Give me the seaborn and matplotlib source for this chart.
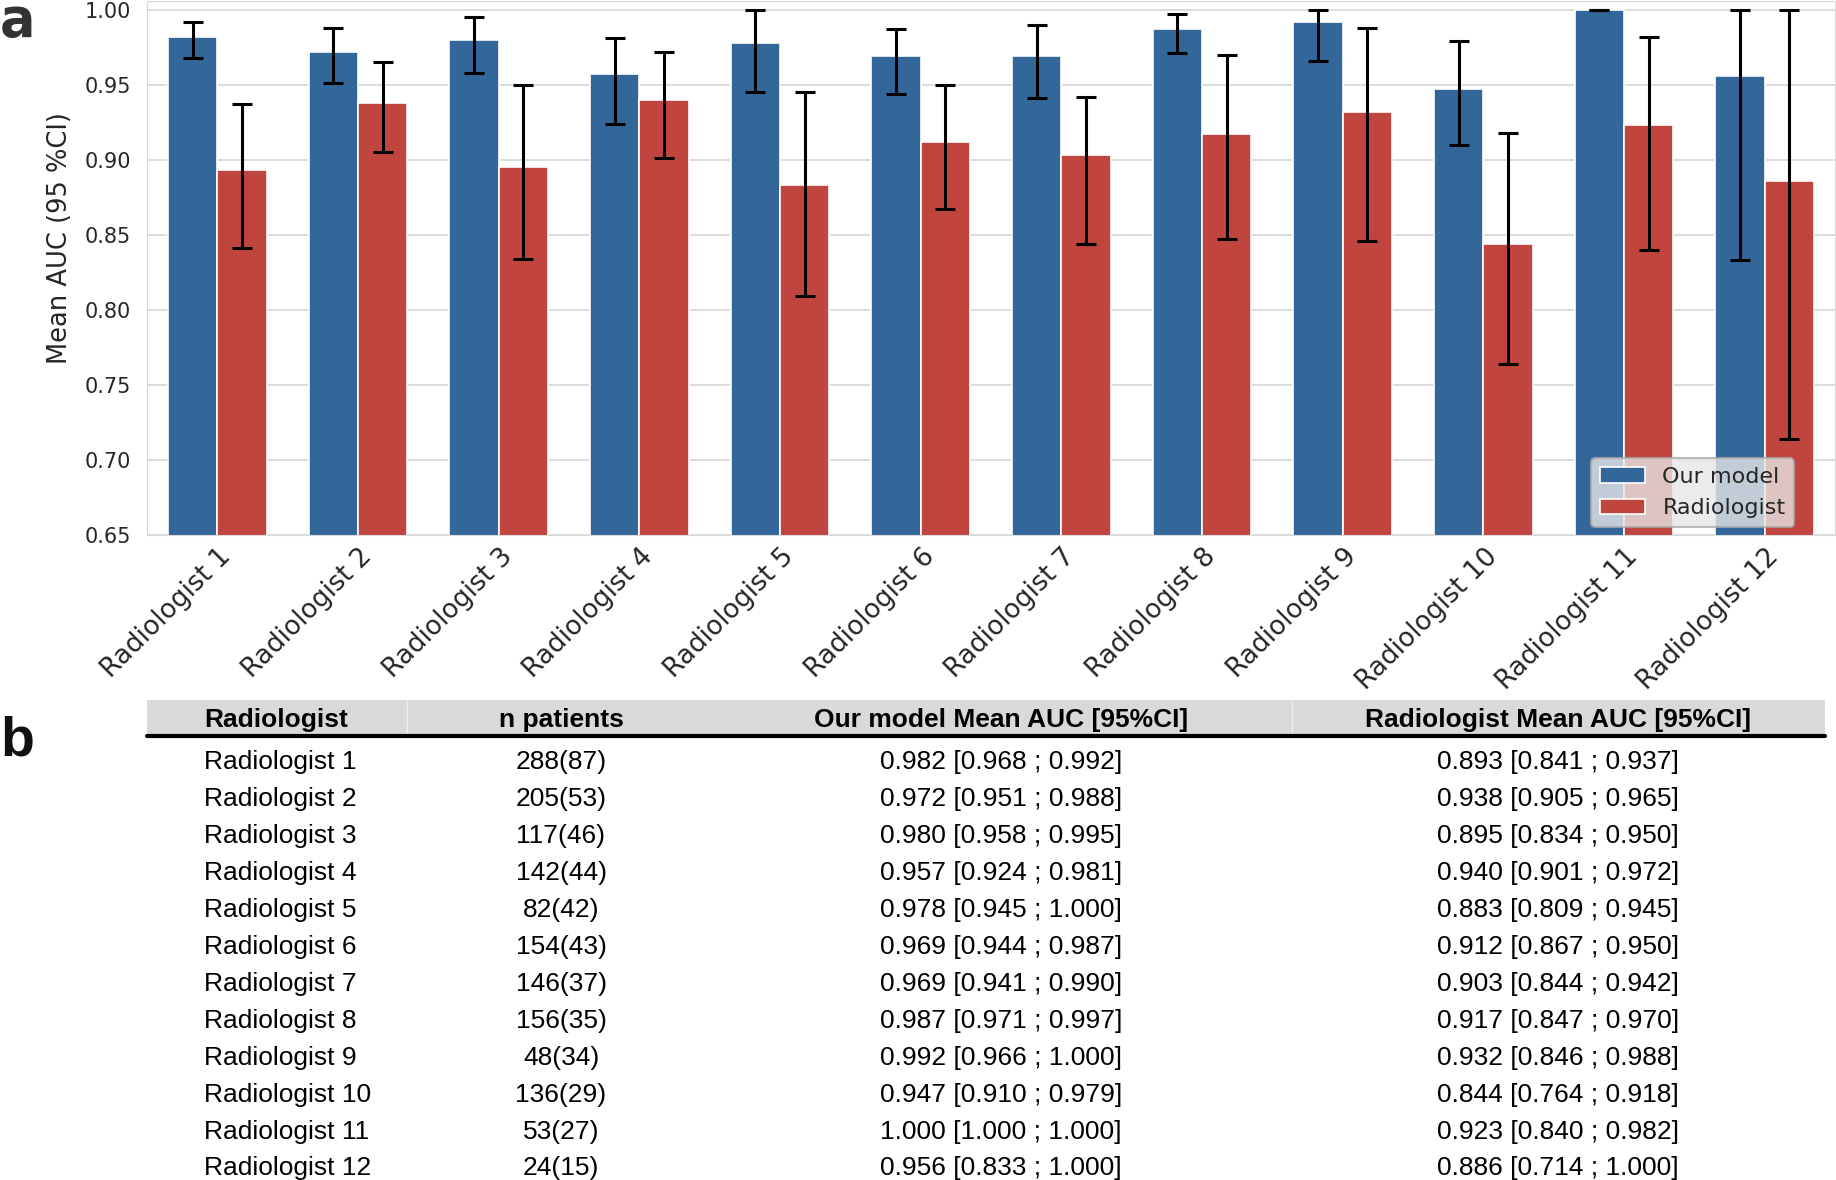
import numpy as np
import pandas as pd
import seaborn as sns
import matplotlib.pyplot as plt
import matplotlib.transforms as mtransforms
from matplotlib.patches import Rectangle

radiologists = ["Radiologist %d" % i for i in range(1, 13)]
n_total = [288, 205, 117, 142, 82, 154, 146, 156, 48, 136, 53, 24]
n_pos = [87, 53, 46, 44, 42, 43, 37, 35, 34, 29, 27, 15]
model_auc = [0.982, 0.972, 0.980, 0.957, 0.978, 0.969, 0.969, 0.987, 0.992, 0.947, 1.000, 0.956]
model_lo = [0.968, 0.951, 0.958, 0.924, 0.945, 0.944, 0.941, 0.971, 0.966, 0.910, 1.000, 0.833]
model_hi = [0.992, 0.988, 0.995, 0.981, 1.000, 0.987, 0.990, 0.997, 1.000, 0.979, 1.000, 1.000]
rad_auc = [0.893, 0.938, 0.895, 0.940, 0.883, 0.912, 0.903, 0.917, 0.932, 0.844, 0.923, 0.886]
rad_lo = [0.841, 0.905, 0.834, 0.901, 0.809, 0.867, 0.844, 0.847, 0.846, 0.764, 0.840, 0.714]
rad_hi = [0.937, 0.965, 0.950, 0.972, 0.945, 0.950, 0.942, 0.970, 0.988, 0.918, 0.982, 1.000]
groups = ["Our model", "Radiologist"]
colors = ["#336699", "#c0453e"]

df = pd.DataFrame({
    "reader": radiologists * 2,
    "group": [groups[0]] * 12 + [groups[1]] * 12,
    "auc": model_auc + rad_auc,
    "lo": model_lo + rad_lo,
    "hi": model_hi + rad_hi,
})

sns.set_style("whitegrid", {"grid.color": ".85", "axes.edgecolor": ".85"})

W, H = 1836, 1180
fig = plt.figure(figsize=(W / 100, H / 100), dpi=100)
ax = fig.add_axes([147 / W, 1 - 535 / H, (1835 - 147) / W, 534 / H])

sns.barplot(data=df, x="reader", y="auc", hue="group", palette=colors, saturation=1,
            width=0.7, errorbar=None, edgecolor="white", linewidth=1.2, ax=ax)

# CI error bars at the bar centres
for cont, g in zip(ax.containers, groups):
    sub = df[df["group"] == g]
    xs = [p.get_x() + p.get_width() / 2 for p in cont.patches]
    y = sub["auc"].values
    err = [y - sub["lo"].values, sub["hi"].values - y]
    ax.errorbar(xs, y, yerr=err, fmt="none", ecolor="black",
                elinewidth=2.2, capsize=7.5, capthick=2.2, zorder=5)

ax.set_ylim(0.65, 1.0057)
ax.set_xlim(-0.5, 11.5)
ax.set_xlabel("")
ax.set_ylabel("Mean AUC (95 %CI)", fontsize=18.5)
ax.yaxis.set_label_coords(-0.0438, 0.556)
ax.tick_params(axis="y", labelsize=15, pad=8)
ax.tick_params(axis="x", labelsize=19, pad=6)
shift = mtransforms.ScaledTranslation(0.10, -0.05, fig.dpi_scale_trans)
for lab in ax.get_xticklabels():
    lab.set_rotation(45)
    lab.set_ha("right")
    lab.set_va("center")
    lab.set_rotation_mode("anchor")
    lab.set_transform(lab.get_transform() + shift)
ax.grid(axis="x", visible=False)
ax.grid(axis="y", linewidth=1.3)

leg = ax.legend(loc="lower right", bbox_to_anchor=(0.976, 0.015), borderaxespad=0,
                fontsize=16, frameon=True, facecolor="#e6e6e6", framealpha=0.8,
                edgecolor="#aaaaaa")
leg.get_frame().set_linewidth(1.5)

fig.text(0.0, 1 - 36 / H, "a", fontsize=38, fontweight="bold", color="#333333", va="baseline")
fig.text(0.0, 1 - 756 / H, "b", fontsize=40, fontweight="bold", color="#111111",
         va="baseline", family="Liberation Sans")

# panel b: table
tax = fig.add_axes([0, 0, 1, 490 / H])
tax.set_xlim(0, W)
tax.set_ylim(H, H - 490)
tax.axis("off")

tax.add_patch(Rectangle((147, 700), 1825 - 147, 34, facecolor="#d9d9d9", edgecolor="none"))
for xs in [407, 1292]:
    tax.plot([xs, xs], [700, 734], color="#eeeeee", linewidth=1)
tax.plot([147, 1825], [736, 736], color="black", linewidth=3)

tfont = dict(family="Liberation Sans", fontsize=19, color="black", va="center")
headers = ["Radiologist", "n patients", "Our model Mean AUC [95%CI]", "Radiologist Mean AUC [95%CI]"]
col_x = [204, 561, 1001, 1558]
col_ha = ["left", "center", "center", "center"]
for h, cx, ha in zip(headers, col_x, col_ha):
    tax.text(cx, 720, h, ha=ha, fontweight="bold", **tfont)

for i in range(12):
    yy = 762.5 + i * 36.9
    cells = [
        radiologists[i],
        "%d(%d)" % (n_total[i], n_pos[i]),
        "%.3f [%.3f ; %.3f]" % (model_auc[i], model_lo[i], model_hi[i]),
        "%.3f [%.3f ; %.3f]" % (rad_auc[i], rad_lo[i], rad_hi[i]),
    ]
    for c, cx, ha in zip(cells, col_x, col_ha):
        tax.text(cx, yy, c, ha=ha, **tfont)

fig.savefig("out.png", dpi=100)
